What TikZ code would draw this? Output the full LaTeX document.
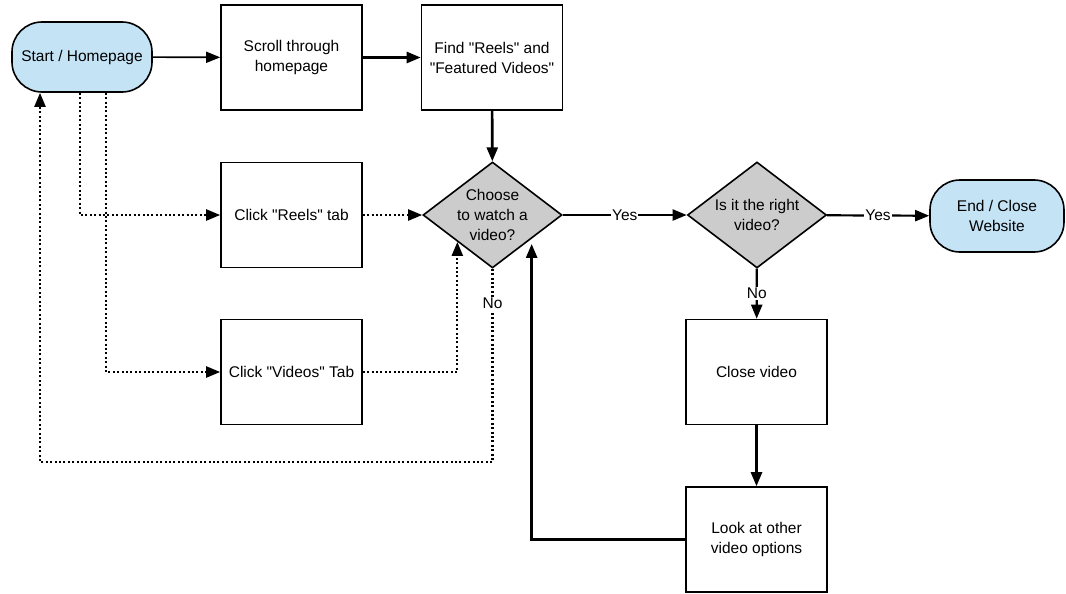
\documentclass[tikz,border=0pt]{standalone}
\usepackage{fontspec}
\setmainfont{Liberation Sans}
\usetikzlibrary{shapes.geometric,arrows.meta}

\definecolor{termblue}{HTML}{C4E4F6}
\definecolor{choicegray}{HTML}{CCCCCC}

\tikzset{
	term/.style={draw, line width=1.6pt, fill=termblue, rounded corners=30pt, minimum width=140pt, minimum height=70pt, align=center},
	procbox/.style={draw, line width=1.6pt, fill=white, minimum width=141pt, minimum height=105pt, align=center},
	choice/.style={draw, line width=1.6pt, fill=choicegray, diamond, shape aspect=1.31, inner sep=-2pt, minimum width=139pt, minimum height=106pt, align=center},
	flow/.style={line width=1.6pt, -{Triangle[length=14pt,width=11pt]}},
	boldflow/.style={flow, line width=2.6pt},
	dotflow/.style={flow, line width=2.2pt, dash pattern=on 2pt off 2.4pt},
	lbl/.style={fill=white, inner sep=1pt}
}

\begin{document}
\begin{tikzpicture}[x=1pt, y=-1pt, font=\fontsize{15.5}{20}\selectfont]
			%%%%% START %%%%%
			\useasboundingbox (0,0) rectangle (1066,594);
			
			\node[term] (start) at (82,57) {Start / Homepage};
			\node[procbox] (scroll) at (291.5,57.5) {Scroll through\\homepage};
			\node[procbox] (find) at (492,57.5) {Find \textquotedbl Reels\textquotedbl{} and\\\textquotedbl Featured Videos\textquotedbl};
			
			\node[procbox] (reels) at (291.5,215) {Click \textquotedbl Reels\textquotedbl{} tab};
			\node[procbox] (videos) at (291.5,372) {Click \textquotedbl Videos\textquotedbl{} Tab};
			
			\node[choice] (choose) at (492.5,215) {Choose\\to watch a\\video?};
			\node[choice] (right) at (757,215) {Is it the right\\video?};
			\node[term, minimum width=134pt, minimum height=72pt] (finish) at (997,216) {End / Close\\Website};
			
			\node[procbox] (closevid) at (756.5,372) {Close video};
			\node[procbox] (look) at (756.5,539.5) {Look at other\\video options};
			
			\coordinate (loopcorner) at (492.5,462);
			
			% main line
			\draw[flow] (start) -- (scroll);
			\draw[boldflow] (scroll) -- (find);
			\draw[boldflow] (find) -- (choose);
			\draw[flow, line width=2.2pt] (choose) -- node[lbl] {Yes} (right);
			\draw[flow, line width=2.2pt] (right) -- node[lbl] {Yes} (finish);
			\draw[flow, line width=2.2pt] (right) -- node[lbl] {No} (closevid);
			\draw[boldflow] (closevid) -- (look);
			\draw[boldflow] (look.west) -| ([xshift=4pt,yshift=-2pt]choose.south east);
			
			% tabs
			\draw[dotflow] ([xshift=-2pt]start.south) |- (reels.west);
			\draw[dotflow] ([xshift=24pt]start.south) |- (videos.west);
			\draw[dotflow] (reels) -- (choose);
			\draw[dotflow] (videos.east) -| (choose.south west);
			\draw[dotflow] (choose.south) -- node[lbl, pos=0.18] {No} (loopcorner) -| ([xshift=-42pt]start.south);
			
			%%%%% END %%%%%
\end{tikzpicture}
\end{document}
